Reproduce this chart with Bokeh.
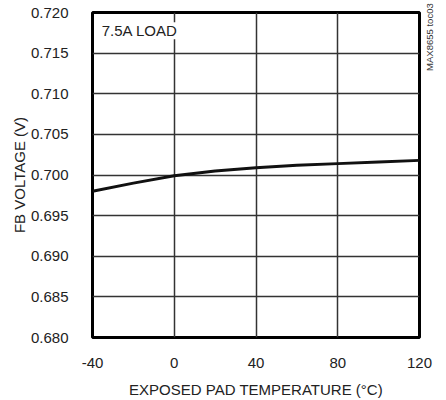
from bokeh.plotting import figure
from bokeh.embed import file_html
from bokeh.resources import INLINE
from bokeh.models import Range1d, FixedTicker, Label, CustomJSTickFormatter, LinearAxis

temp_c = [-40, -20, 0, 20, 40, 60, 80, 100, 120]
fb_voltage = [0.6980, 0.6990, 0.6999, 0.7005, 0.7009, 0.7012, 0.7014, 0.7016, 0.7018]
x_ticks = [-40, 0, 40, 80, 120]
y_ticks = [0.680, 0.685, 0.690, 0.695, 0.700, 0.705, 0.710, 0.715, 0.720]
side_note = "MAX8655 toc03"
side_note_pos = 0.7135

FONT = "Liberation Sans"

p = figure(width=446, height=400, output_backend="svg", toolbar_location=None,
           x_range=Range1d(-40, 120), y_range=Range1d(0.680, 0.720),
           min_border_left=92, min_border_right=27, min_border_top=12, min_border_bottom=62)

p.outline_line_color = "black"
p.outline_line_width = 3
p.outline_line_alpha = 1

p.xaxis.ticker = FixedTicker(ticks=x_ticks)
p.yaxis.ticker = FixedTicker(ticks=y_ticks)
p.yaxis.formatter = CustomJSTickFormatter(code="return tick.toFixed(3);")
p.xaxis.formatter = CustomJSTickFormatter(code="return String(tick);")

for ax in (p.xaxis[0], p.yaxis[0]):
    ax.axis_line_color = None
    ax.major_tick_line_color = None
    ax.minor_tick_line_color = None
    ax.major_label_text_font = FONT
    ax.major_label_text_font_size = "15px"
    ax.major_label_text_color = "#222222"
    ax.axis_label_text_font = FONT
    ax.axis_label_text_font_size = "15px"
    ax.axis_label_text_font_style = "normal"
    ax.axis_label_text_color = "#222222"

p.xaxis.major_label_standoff = 14
p.yaxis.major_label_standoff = 18
p.xaxis.axis_label = "EXPOSED PAD TEMPERATURE (°C)"
p.yaxis.axis_label = "FB VOLTAGE (V)"
p.xaxis.axis_label_standoff = 10
p.yaxis.axis_label_standoff = 0

# right-side note rendered as a single rotated tick label
note_axis = LinearAxis(ticker=FixedTicker(ticks=[side_note_pos]),
                       major_label_overrides={side_note_pos: side_note},
                       axis_line_color=None, major_tick_line_color=None,
                       minor_tick_line_color=None, major_label_standoff=4,
                       major_label_orientation=1.5708,
                       major_label_text_font=FONT, major_label_text_font_size="9.5px",
                       major_label_text_color="#333333")
p.add_layout(note_axis, "right")

p.xgrid.ticker = FixedTicker(ticks=x_ticks)
p.ygrid.ticker = FixedTicker(ticks=y_ticks)
for g in (p.xgrid[0], p.ygrid[0]):
    g.grid_line_color = "#333333"
    g.grid_line_width = 1.5

p.line(temp_c, fb_voltage, line_color="#111111", line_width=3)

p.add_layout(Label(x=-35.5, y=0.7167, text="7.5A LOAD", text_font=FONT,
                   text_font_size="15px", text_color="#222222",
                   background_fill_color="white"))

p.background_fill_color = "white"
p.border_fill_color = "white"

open("out.html", "w").write(file_html(p, INLINE))
